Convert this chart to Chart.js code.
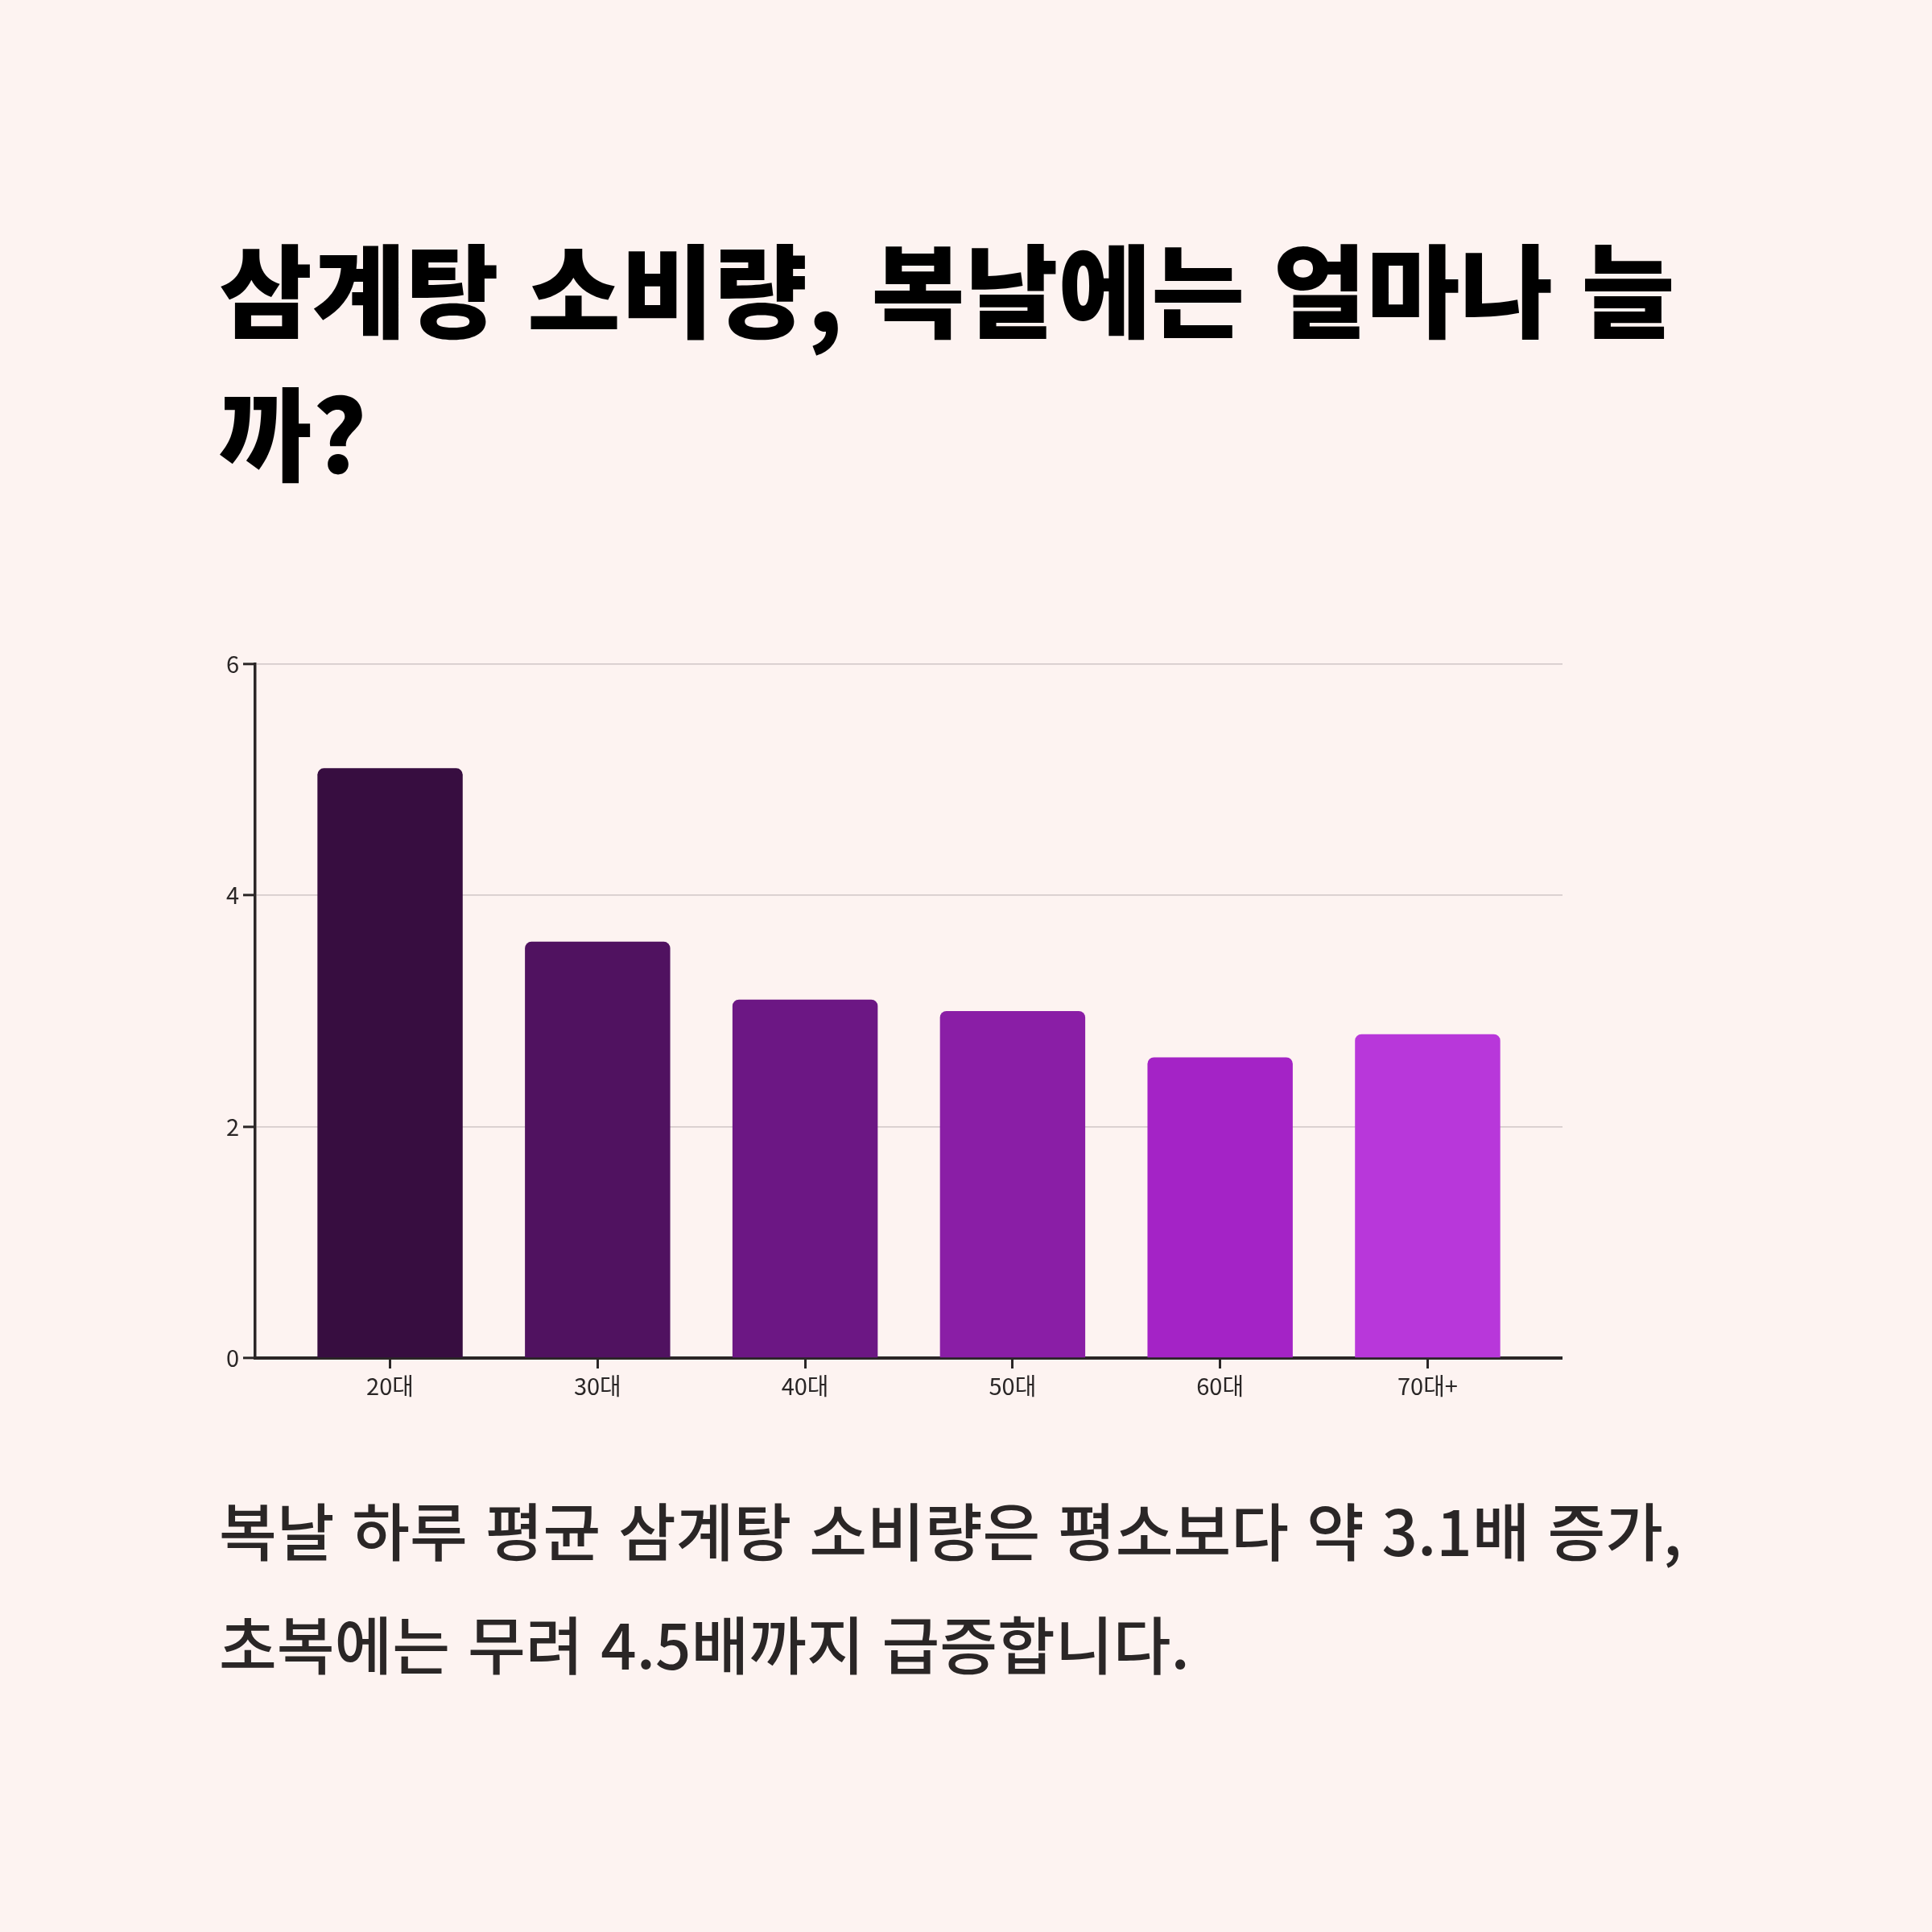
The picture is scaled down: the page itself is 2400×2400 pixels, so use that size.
<!DOCTYPE html>
<html lang="ko">
<head>
<meta charset="utf-8">
<script src="https://cdn.jsdelivr.net/npm/chart.js@4.4.1/dist/chart.umd.min.js"></script>
<style>
  html, body { margin: 0; padding: 0; background: #fdf3f1; }
  body { width: 2400px; height: 2400px; position: relative; overflow: hidden; }
  h1 {
    position: absolute; left: 272px; top: 266px; width: 1856px; margin: 0;
    font-family: "Noto Sans CJK KR", sans-serif; font-weight: 900;
    font-size: 126px; line-height: 178px; color: #000; letter-spacing: 0;
  }
  p.sub {
    position: absolute; left: 272px; top: 1829px; width: 1856px; margin: 0;
    font-family: "Noto Sans CJK KR", sans-serif; font-weight: 500;
    font-size: 78px; line-height: 141px; color: #2a2626;
  }
  #wrap { position: absolute; left: 200px; top: 800px; width: 1741px; height: 967px; }
</style>
</head>
<body>
<h1>삼계탕 소비량, 복날에는 얼마나 늘까?</h1>
<div id="wrap"><canvas id="c"></canvas></div>
<p class="sub">복날 하루 평균 삼계탕 소비량은 평소보다 약 3.1배 증가, 초복에는 무려 4.5배까지 급증합니다.</p>
<script>
const categories = ["20대", "30대", "40대", "50대", "60대", "70대+"];
const values = [5.1, 3.6, 3.1, 3.0, 2.6, 2.8];
const barColors = ["#370d40", "#501260", "#6c1784", "#8a1ea6", "#a423c6", "#b837da"];
const yTicks = [0, 2, 4, 6];

const ink = "#2a2626";
const tickFont = { family: "'Noto Sans CJK KR', sans-serif", size: 29, weight: 400 };

new Chart(document.getElementById("c"), {
  type: "bar",
  data: {
    datasets: [{
      data: categories.map((c, i) => ({ x: i, y: values[i] })),
      backgroundColor: barColors,
      borderRadius: 8,
      borderSkipped: "start",
      barPercentage: 0.7,
      categoryPercentage: 1.0
    }]
  },
  options: {
    responsive: true,
    maintainAspectRatio: false,
    animation: false,
    layout: { padding: { top: 25, right: 0, bottom: 0, left: 0 } },
    plugins: { legend: { display: false }, tooltip: { enabled: false } },
    scales: {
      x: {
        type: "linear",
        offset: false,
        min: -0.65,
        max: categories.length - 1 + 0.65,
        afterBuildTicks: (s) => { s.ticks = categories.map((c, i) => ({ value: i })); },
        afterFit: (s) => { s.height = 80; },
        ticks: {
          autoSkip: false, maxRotation: 0, padding: 5,
          color: ink, font: tickFont,
          callback: (v) => categories[v]
        },
        grid: { offset: false, drawOnChartArea: false, drawTicks: true, tickLength: 13, tickWidth: 3, tickColor: ink },
        border: { display: true, color: ink, width: 4 }
      },
      y: {
        min: 0, max: 6,
        afterBuildTicks: (s) => { s.ticks = yTicks.map(v => ({ value: v })); },
        afterFit: (s) => { s.width = 117; },
        ticks: { padding: 5, color: ink, font: tickFont },
        grid: { color: "#d6cccc", lineWidth: 1.7, tickLength: 15, tickWidth: 3, tickColor: ink },
        border: { display: true, color: ink, width: 3.5 }
      }
    }
  }
});
</script>
</body>
</html>
